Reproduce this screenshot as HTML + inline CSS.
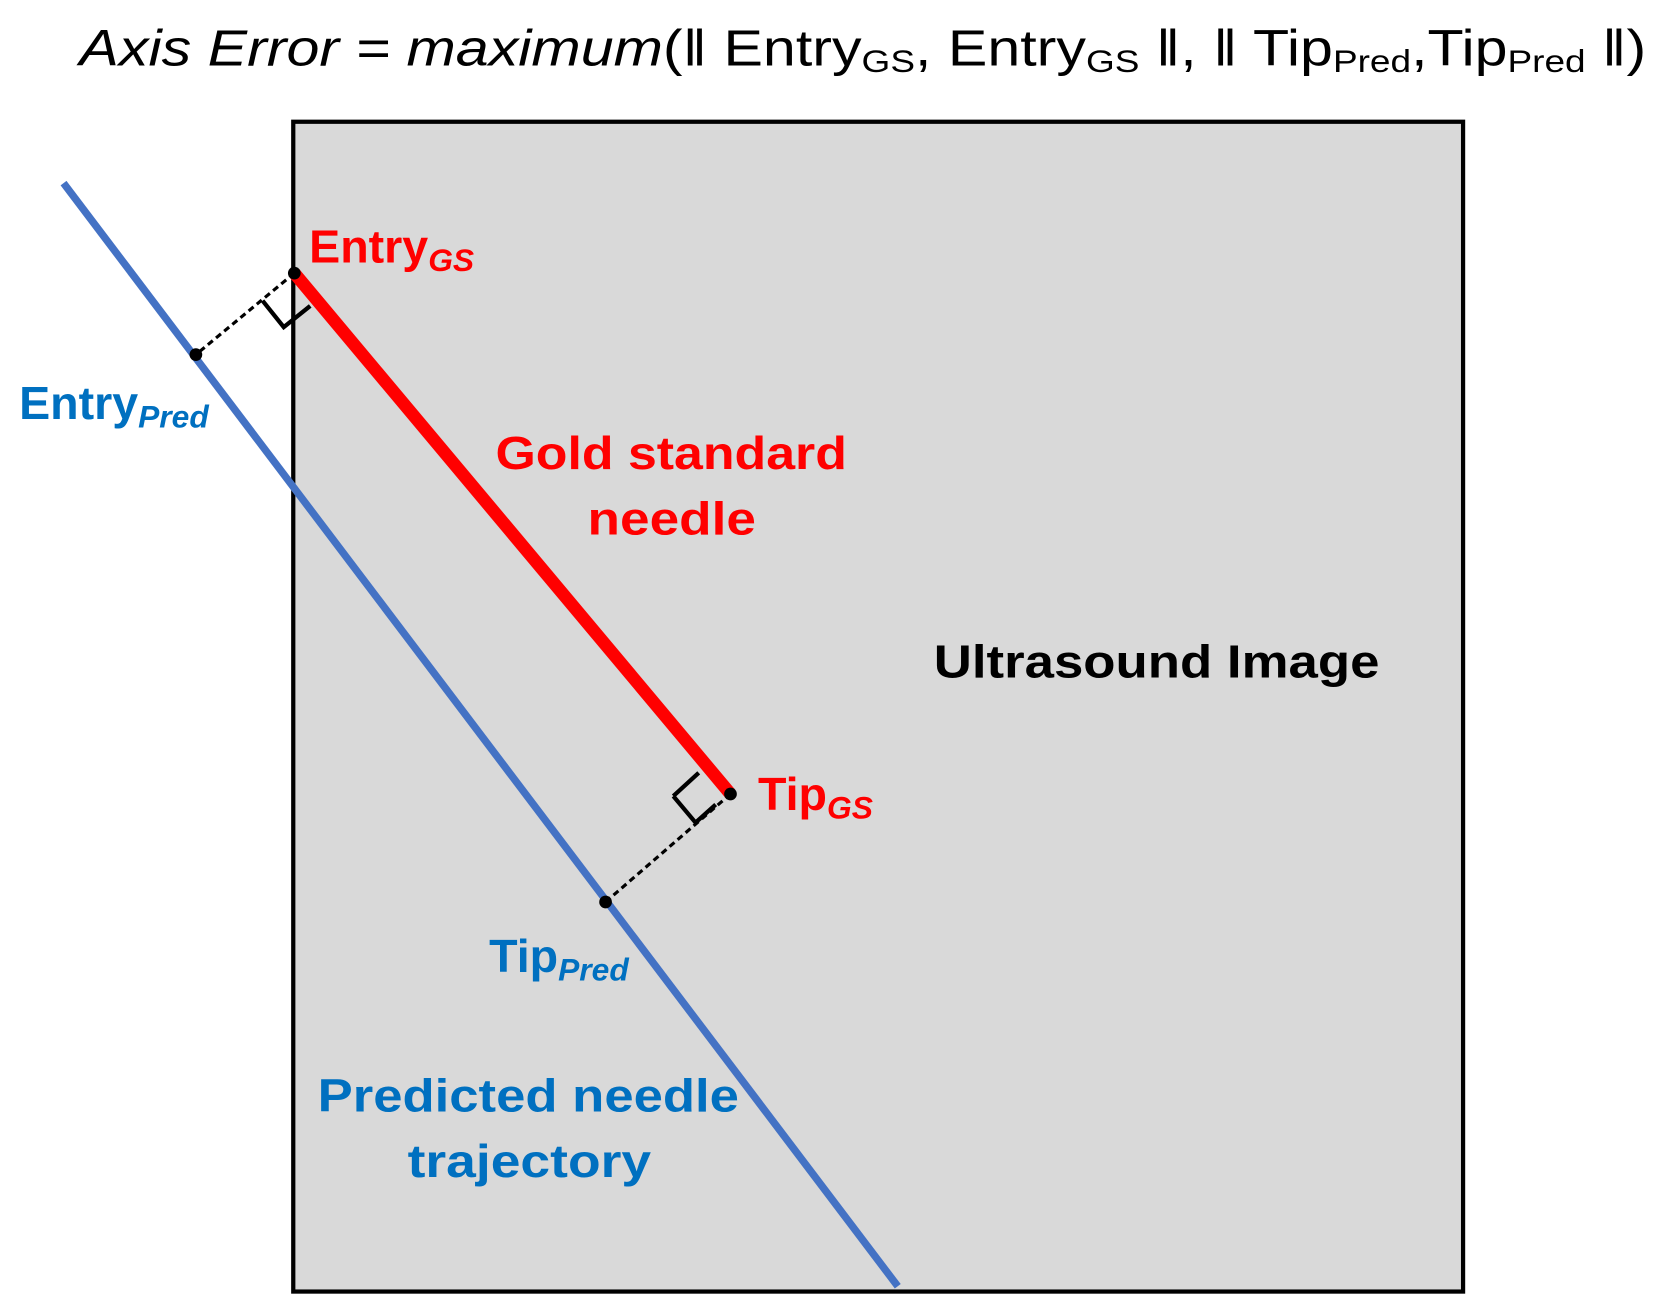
<!DOCTYPE html>
<html><head><style>html,body{margin:0;padding:0;background:#fff;width:1660px;height:1314px;overflow:hidden}</style></head>
<body>
<svg width="1660" height="1314" viewBox="0 0 1568 1241.2" xmlns="http://www.w3.org/2000/svg" font-family="Liberation Sans, sans-serif">
<rect x="277" y="115" width="1105" height="1105" fill="#d9d9d9" stroke="#000" stroke-width="4"/>
<text x="75" y="62" font-size="48" textLength="1480" lengthAdjust="spacingAndGlyphs"><tspan font-style="italic">Axis Error = maximum</tspan>(‖ Entry<tspan font-size="30" dy="6">GS</tspan><tspan dy="-6">, Entry</tspan><tspan font-size="30" dy="6">GS</tspan><tspan dy="-6"> ‖, ‖ Tip</tspan><tspan font-size="30" dy="6">Pred</tspan><tspan dy="-6">,Tip</tspan><tspan font-size="30" dy="6">Pred</tspan><tspan dy="-6"> ‖)</tspan></text>
<line x1="60" y1="173" x2="848" y2="1215" stroke="#4472c4" stroke-width="7"/>
<line x1="278" y1="258" x2="690" y2="750" stroke="#ff0000" stroke-width="12"/>
<line x1="278" y1="258" x2="185" y2="335" stroke="#000" stroke-width="3" stroke-dasharray="6,4"/>
<line x1="690" y1="750" x2="572" y2="852" stroke="#000" stroke-width="3" stroke-dasharray="6,4"/>
<polyline points="248,284 268,309 293,289" fill="none" stroke="#000" stroke-width="4"/>
<polyline points="636,752 657,777 676,760" fill="none" stroke="#000" stroke-width="4"/>
<line x1="636" y1="752" x2="660" y2="730" stroke="#000" stroke-width="4"/>
<g fill="#000"><circle cx="278" cy="258" r="6"/><circle cx="185" cy="335" r="6"/><circle cx="690" cy="750" r="6"/><circle cx="572" cy="852" r="6"/></g>
<g font-weight="bold" font-size="44">
<text x="292" y="248" fill="#ff0000">Entry<tspan font-size="30" font-style="italic" dy="8">GS</tspan></text>
<text x="18" y="396" fill="#0070c0">Entry<tspan font-size="30" font-style="italic" dy="8">Pred</tspan></text>
<text x="468" y="443" fill="#ff0000" textLength="332" lengthAdjust="spacingAndGlyphs">Gold standard</text>
<text x="555" y="505" fill="#ff0000" textLength="159" lengthAdjust="spacingAndGlyphs">needle</text>
<text x="882" y="640" fill="#000" textLength="421" lengthAdjust="spacingAndGlyphs">Ultrasound Image</text>
<text x="716" y="765" fill="#ff0000">Tip<tspan font-size="30" font-style="italic" dy="8">GS</tspan></text>
<text x="462" y="918" fill="#0070c0">Tip<tspan font-size="30" font-style="italic" dy="8">Pred</tspan></text>
<text x="300" y="1050" fill="#0070c0" textLength="398" lengthAdjust="spacingAndGlyphs">Predicted needle</text>
<text x="385" y="1112" fill="#0070c0" textLength="230" lengthAdjust="spacingAndGlyphs">trajectory</text>
</g>
</svg>
</body></html>
